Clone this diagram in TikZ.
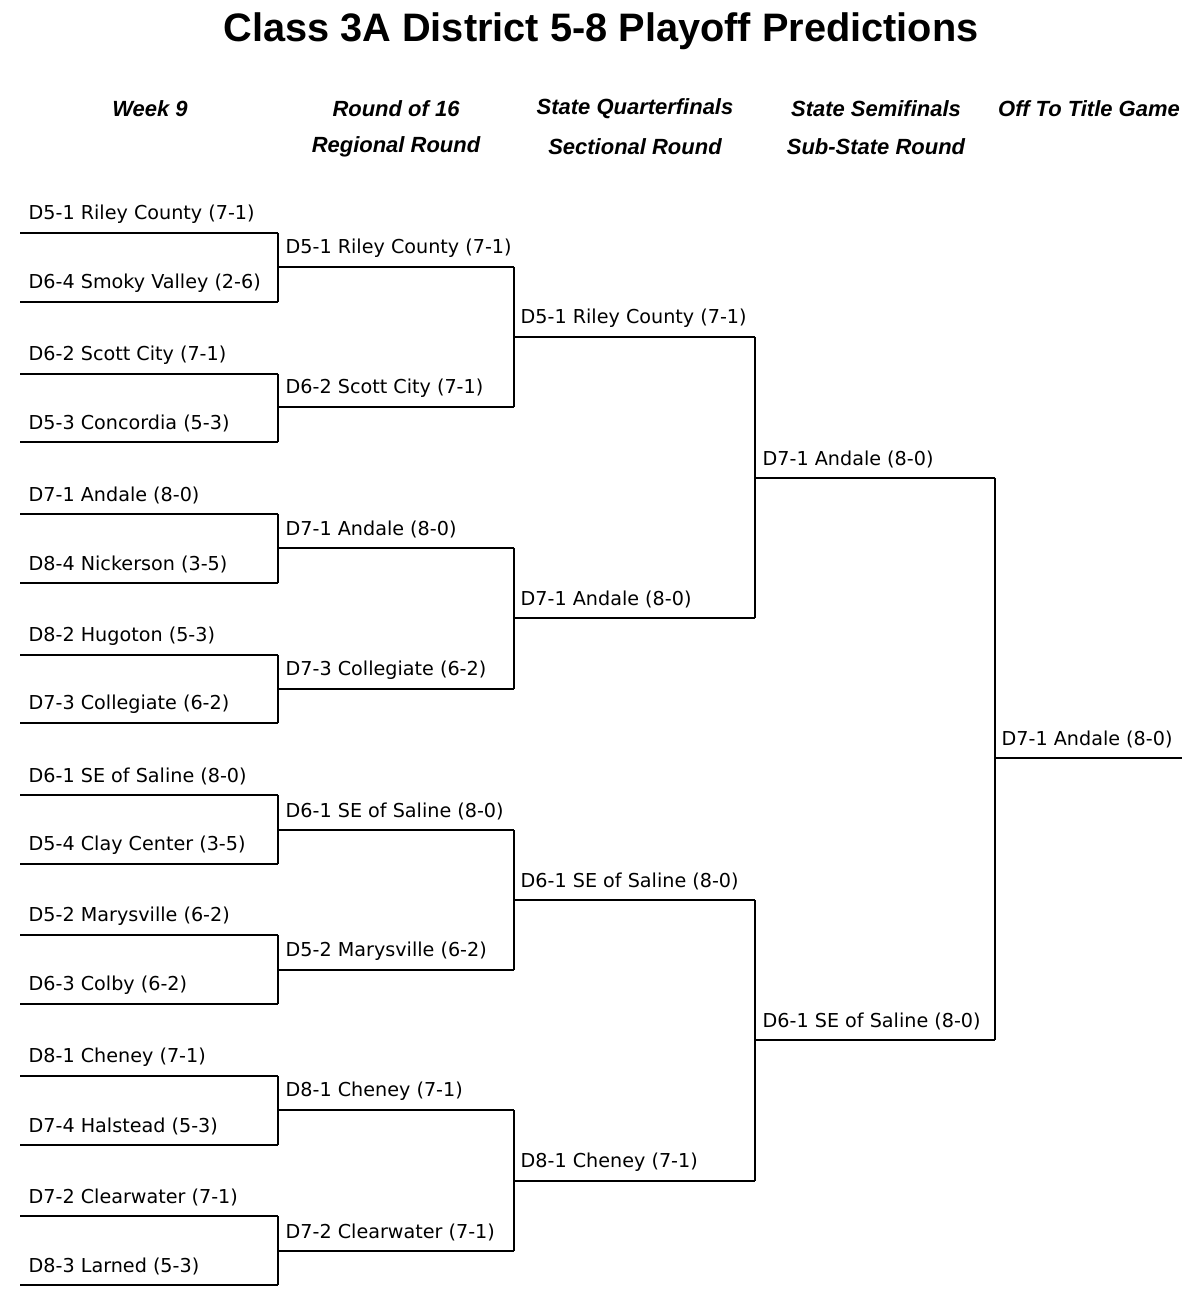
\documentclass[tikz,border=0pt]{standalone}
\usepackage{fontspec}
\setmainfont{DejaVu Sans}
\newfontfamily\titlefont{Liberation Sans}
\begin{document}
\begin{tikzpicture}[x=0.01cm,y=-0.01cm,
  lbl/.style={anchor=south west,inner sep=0pt,font=\fontsize{5.45}{6}\selectfont},
  hdr/.style={font=\titlefont\bfseries\itshape\fontsize{6.25}{7}\selectfont,inner sep=0pt},
  ln/.style={line width=0.45pt}]
\useasboundingbox (0,0) rectangle (1200,1307);
\node[font=\titlefont\bfseries\fontsize{11.3}{12}\selectfont] (title) at (601,31) {Class 3A District 5-8 Playoff Predictions};
\node[hdr] (h1) at (150,109) {Week 9};
\node[hdr] (h2a) at (396,109) {Round of 16};
\node[hdr] (h2b) at (396,147) {Regional Round};
\node[hdr] (h3a) at (635,109) {State Quarterfinals};
\node[hdr] (h3b) at (635,147) {Sectional Round};
\node[hdr] (h4a) at (876,109) {State Semifinals};
\node[hdr] (h4b) at (876,147) {Sub-State Round};
\node[hdr] (h5) at (1089,109) {Off To Title Game};
% round 1
\foreach \y/\t [count=\i] in {233/D5-1 Riley County (7-1),302/D6-4 Smoky Valley (2-6),374/D6-2 Scott City (7-1),442/D5-3 Concordia (5-3),514/D7-1 Andale (8-0),583/D8-4 Nickerson (3-5),655/D8-2 Hugoton (5-3),723/D7-3 Collegiate (6-2),795/D6-1 SE of Saline (8-0),864/D5-4 Clay Center (3-5),935/D5-2 Marysville (6-2),1004/D6-3 Colby (6-2),1076/D8-1 Cheney (7-1),1145/D7-4 Halstead (5-3),1216/D7-2 Clearwater (7-1),1285/D8-3 Larned (5-3)}{
  \coordinate (a\i) at (20,\y); \coordinate (b\i) at (278,\y);
  \node[lbl] (t1-\i) at (28,\y-9) {\t};
  \draw[ln] (a\i) -- (b\i);}
\foreach \y/\t [count=\i] in {267/D5-1 Riley County (7-1),407/D6-2 Scott City (7-1),548/D7-1 Andale (8-0),689/D7-3 Collegiate (6-2),830/D6-1 SE of Saline (8-0),970/D5-2 Marysville (6-2),1110/D8-1 Cheney (7-1),1251/D7-2 Clearwater (7-1)}{
  \coordinate (c\i) at (278,\y); \coordinate (d\i) at (514,\y);
  \node[lbl] (t2-\i) at (285,\y-9) {\t};
  \draw[ln] (c\i) -- (d\i);}
\foreach \y/\t [count=\i] in {337/D5-1 Riley County (7-1),618/D7-1 Andale (8-0),900/D6-1 SE of Saline (8-0),1181/D8-1 Cheney (7-1)}{
  \coordinate (e\i) at (514,\y); \coordinate (f\i) at (755,\y);
  \node[lbl] (t3-\i) at (520,\y-9) {\t};
  \draw[ln] (e\i) -- (f\i);}
\foreach \y/\t [count=\i] in {478/D7-1 Andale (8-0),1040/D6-1 SE of Saline (8-0)}{
  \coordinate (g\i) at (755,\y); \coordinate (h\i) at (995,\y);
  \node[lbl] (t4-\i) at (762,\y-9) {\t};
  \draw[ln] (g\i) -- (h\i);}
\coordinate (k1) at (995,758); \coordinate (k2) at (1182,758);
\node[lbl] (t5) at (1001,749) {D7-1 Andale (8-0)};
\draw[ln] (k1) -- (k2);
% verticals
\foreach \i in {1,...,8}{\pgfmathtruncatemacro\p{2*\i-1}\pgfmathtruncatemacro\q{2*\i}
  \draw[ln] (b\p) -- (b\q);}
\foreach \i in {1,...,4}{\pgfmathtruncatemacro\p{2*\i-1}\pgfmathtruncatemacro\q{2*\i}
  \draw[ln] (d\p) -- (d\q);}
\foreach \i in {1,2}{\pgfmathtruncatemacro\p{2*\i-1}\pgfmathtruncatemacro\q{2*\i}
  \draw[ln] (f\p) -- (f\q);}
\draw[ln] (h1) -- (h2);
\end{tikzpicture}
\end{document}
